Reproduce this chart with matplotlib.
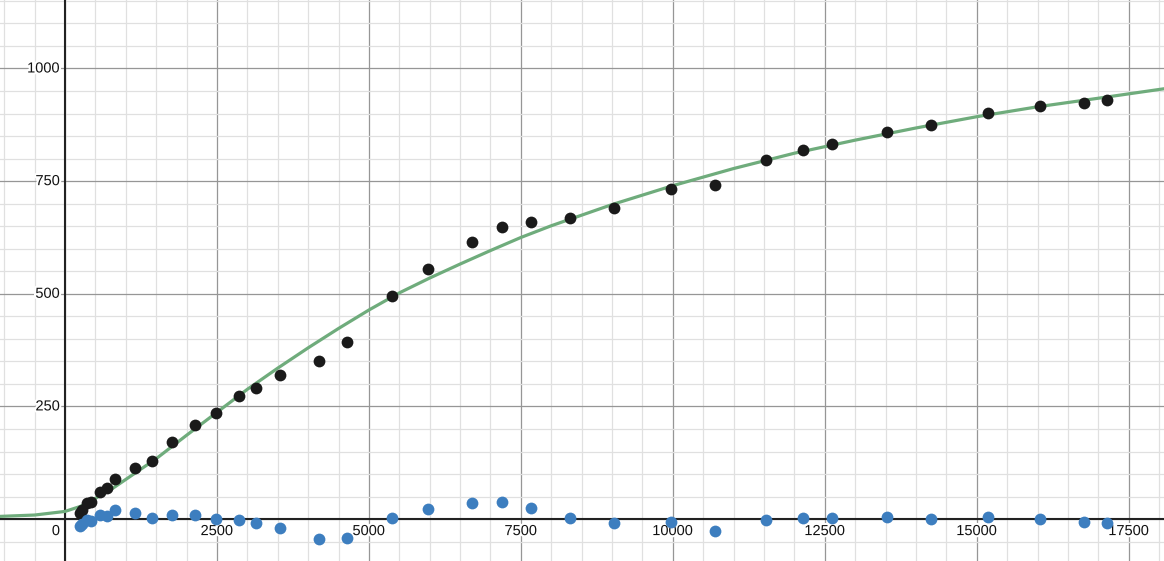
import matplotlib
matplotlib.use("Agg")
import matplotlib.pyplot as plt
import matplotlib.patheffects as pe
from matplotlib.ticker import MultipleLocator

# observed points
obs_x = [247, 280, 367, 423, 576, 696, 817, 1156, 1436, 1765, 2133, 2479,
         2867, 3141, 3541, 4173, 4638, 5383, 5965, 6689, 7188, 7660, 8306,
         9035, 9962, 10696, 11533, 12133, 12620, 13525, 14243, 15186, 16048,
         16765, 17150]
obs_y = [14, 21, 36, 38, 60, 68, 90, 114, 130, 170, 208, 235,
         274, 292, 319, 350, 393, 496, 555, 615, 648, 660, 669,
         691, 733, 742, 796, 819, 833, 860, 875, 902, 916,
         924, 929]
# residuals (blue)
resid = [-16, -11.5, -1, -4, 9, 7, 19.5, 13, 2, 8, 8, 0.5,
         -2, -9, -20, -45, -42, 3, 23, 36, 39, 25.5, 3,
         -8, -5.5, -25.5, -1, 2, 3, 4, 0, 5, 0,
         -6, -9]

# fitted curve
fit_x = [-1070, -500, 0, 250, 500, 750, 1000, 1500, 2000, 2500, 3000, 3500,
         4000, 4500, 5000, 5500, 6000, 6500, 7000, 7500, 8000, 9000, 10000,
         11000, 12000, 13000, 14000, 15000, 16000, 17000, 18080]
fit_y = [6, 9, 17, 28, 46, 65, 88, 134, 186, 237, 288, 335,
         380, 423, 464, 502, 535, 566, 596, 625, 651, 698, 740,
         778, 812, 841, 868, 893, 915, 934, 955]

x_ticks = [2500, 5000, 7500, 10000, 12500, 15000, 17500]
y_ticks = [250, 500, 750, 1000]

plt.rcParams['font.family'] = ['Liberation Sans', 'DejaVu Sans']

fig = plt.figure(figsize=(11.64, 5.61), dpi=100)
ax = fig.add_axes([0, 0, 1, 1])
ax.set_xlim(-1069, 18080)
ax.set_ylim(-93, 1152)

ax.xaxis.set_major_locator(MultipleLocator(2500))
ax.xaxis.set_minor_locator(MultipleLocator(500))
ax.yaxis.set_major_locator(MultipleLocator(250))
ax.yaxis.set_minor_locator(MultipleLocator(50))
ax.grid(which='minor', color='#e0e0e0', lw=0.9)
ax.grid(which='major', color='#969696', lw=0.9)
ax.set_axisbelow(True)
ax.tick_params(which='both', length=0, labelbottom=False, labelleft=False)
for s in ax.spines.values():
    s.set_visible(False)
ax.axhline(0, color='#222222', lw=1.5, zorder=1)
ax.axvline(0, color='#222222', lw=1.5, zorder=1)

ax.plot(fit_x, fit_y, color='#6fac7c', lw=2.3, zorder=2)
ax.scatter(obs_x, obs_y, s=72, color='#1a1a1a', zorder=3, linewidths=0)
ax.scatter(obs_x, resid, s=72, color='#3d7ebf', zorder=3, linewidths=0)

halo = [pe.withStroke(linewidth=3, foreground='white')]
lbl = dict(fontsize=10.5, color='#111111', textcoords='offset pixels',
           path_effects=halo, zorder=1.5)
for t in x_ticks:
    ax.annotate(str(t), (t, 0), xytext=(0, -12), ha='center', va='center', **lbl)
for t in y_ticks:
    ax.annotate(str(t), (0, t), xytext=(-5, 0), ha='right', va='center', **lbl)
ax.annotate('0', (0, 0), xytext=(-9, -12), ha='center', va='center', **lbl)

fig.savefig('out.png', dpi=100)
